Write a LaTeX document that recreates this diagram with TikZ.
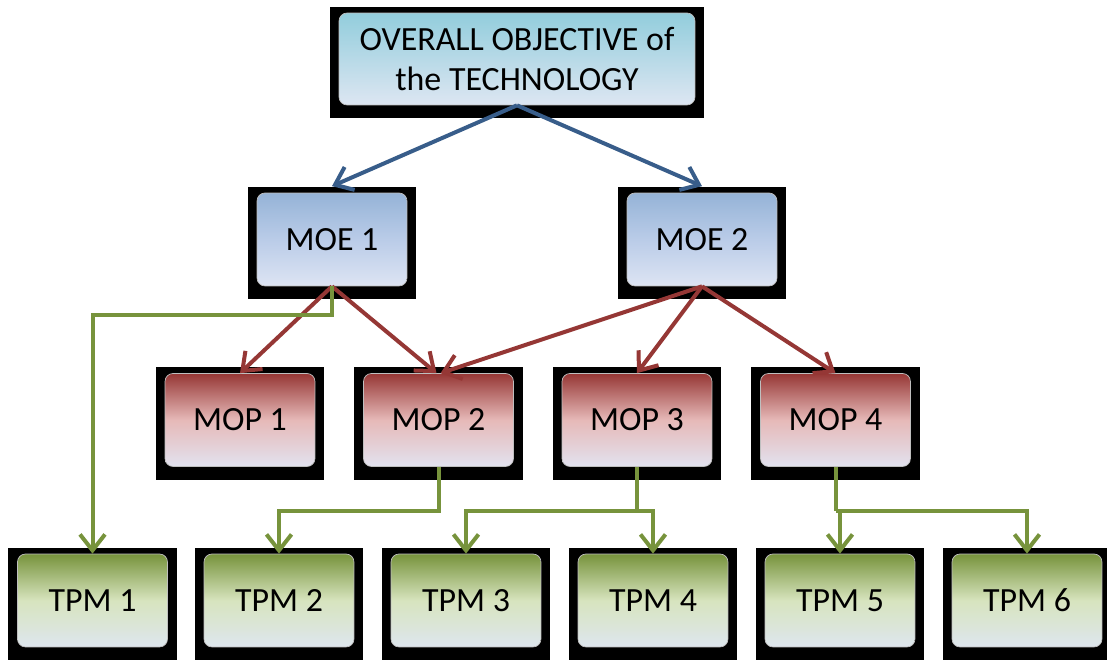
\documentclass[tikz,border=0pt]{standalone}
\usepackage{fontspec}
\setmainfont{Carlito}
\usetikzlibrary{arrows.meta,backgrounds}

\definecolor{objtop}{RGB}{146,205,220}
\definecolor{objbot}{RGB}{221,230,242}
\definecolor{moetop}{RGB}{149,179,215}
\definecolor{moemid}{RGB}{186,204,232}
\definecolor{moebot}{RGB}{221,228,243}
\definecolor{moptop}{RGB}{150,55,53}
\definecolor{mopmid}{RGB}{230,185,184}
\definecolor{mopbot}{RGB}{226,226,239}
\definecolor{tpmtop}{RGB}{119,147,60}
\definecolor{tpmmid}{RGB}{215,228,190}
\definecolor{tpmbot}{RGB}{222,230,238}
\definecolor{linkblue}{RGB}{56,93,138}
\definecolor{linkred}{RGB}{149,55,53}
\definecolor{linkgreen}{RGB}{119,147,60}

\tikzset{
  box/.style={rounded corners=0.16cm, draw=black!25, line width=0.4pt,
    minimum width=3cm, minimum height=1.86cm, inner sep=0pt, align=center,
    font=\fontsize{19.3}{23.2}\selectfont},
  objbox/.style={box, top color=objtop, bottom color=objbot,
    minimum width=7.12cm, minimum height=1.84cm},
  moebox/.style={box, top color=moetop, bottom color=moebot, middle color=moemid},
  mopbox/.style={box, top color=moptop, bottom color=mopbot, middle color=mopmid},
  tpmbox/.style={box, top color=tpmtop, bottom color=tpmbot, middle color=tpmmid},
  link/.style={line width=0.08cm, line join=miter,
    -{Straight Barb[length=0.32cm,width=0.5cm]}},
  bluelink/.style={link, draw=linkblue},
  redlink/.style={link, draw=linkred},
  greenlink/.style={link, draw=linkgreen},
}

\begin{document}
\begin{tikzpicture}[x=0.02cm, y=-0.02cm]
  \useasboundingbox (0,0) rectangle (1107,661);

  % objective
  \node[objbox] (obj) at (517,59) {OVERALL OBJECTIVE of\\the TECHNOLOGY};

  % measures of effectiveness
  \node[moebox] (moe1) at (332,239.5) {MOE 1};
  \node[moebox] (moe2) at (702,239.5) {MOE 2};

  % measures of performance
  \node[mopbox] (mop1) at (240,420) {MOP 1};
  \node[mopbox] (mop2) at (438.5,420) {MOP 2};
  \node[mopbox] (mop3) at (637,420) {MOP 3};
  \node[mopbox] (mop4) at (835.5,420) {MOP 4};

  % technical performance measures
  \node[tpmbox] (tpm1) at (92.5,600.5) {TPM 1};
  \node[tpmbox] (tpm2) at (279,600.5) {TPM 2};
  \node[tpmbox] (tpm3) at (466,600.5) {TPM 3};
  \node[tpmbox] (tpm4) at (653,600.5) {TPM 4};
  \node[tpmbox] (tpm5) at (840,600.5) {TPM 5};
  \node[tpmbox] (tpm6) at (1027,600.5) {TPM 6};

  % black frames behind every box
  \begin{scope}[on background layer]
    \foreach \n in {obj,moe1,moe2,mop1,mop2,mop3,mop4,tpm1,tpm2,tpm3,tpm4,tpm5,tpm6}
      \fill[black] ([shift={(-0.18cm,-0.26cm)}]\n.south west)
        rectangle ([shift={(0.18cm,0.12cm)}]\n.north east);
  \end{scope}

  % objective -> MOE
  \draw[bluelink] (obj.south) -- ([yshift=0.13cm]moe1.north);
  \draw[bluelink] (obj.south) -- ([yshift=0.13cm]moe2.north);

  % MOE -> MOP
  \draw[redlink] (moe1.south) -- (mop1.north);
  \draw[redlink] (moe1.south) -- ([xshift=-0.04cm]mop2.north);
  \draw[redlink] (moe2.south) -- ([xshift=0.04cm]mop2.north);
  \draw[redlink] (moe2.south) -- (mop3.north);
  \draw[redlink] (moe2.south) -- (mop4.north);

  % green trunk levels
  \coordinate (j1) at (0,315);
  \coordinate (j2) at (0,511);

  % MOE 1 -> TPM 1
  \draw[greenlink] (moe1.south) -- (moe1.south |- j1) -| (tpm1.north);

  % MOP -> TPM
  \draw[greenlink] (mop2.south) -- (mop2.south |- j2) -| (tpm2.north);
  \draw[greenlink,-] (mop3.south) -- (mop3.south |- j2);
  \draw[greenlink] (mop3.south |- j2) -| (tpm3.north);
  \draw[greenlink] (mop3.south |- j2) -| (tpm4.north);
  \draw[greenlink,-] (mop4.south) -- (mop4.south |- j2);
  \draw[greenlink] (mop4.south |- j2) -| (tpm5.north);
  \draw[greenlink] (mop4.south |- j2) -| (tpm6.north);
\end{tikzpicture}
\end{document}
